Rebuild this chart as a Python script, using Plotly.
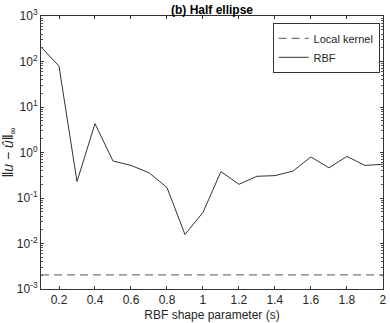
import plotly.graph_objects as go

# RBF shape parameter values and errors
s = [0.1, 0.2, 0.3, 0.4, 0.5, 0.6, 0.7, 0.8, 0.9, 1.0,
     1.1, 1.2, 1.3, 1.4, 1.5, 1.6, 1.7, 1.8, 1.9, 2.0]
rbf_err = [209, 79, 0.23, 4.3, 0.65, 0.52, 0.36, 0.17, 0.0158, 0.048,
           0.38, 0.20, 0.30, 0.31, 0.39, 0.80, 0.46, 0.82, 0.52, 0.55]
local_err = [0.00204] * len(s)

x_ticks = [0.2, 0.4, 0.6, 0.8, 1, 1.2, 1.4, 1.6, 1.8, 2]
x_ticktext = ["0.2", "0.4", "0.6", "0.8", "1", "1.2", "1.4", "1.6", "1.8", "2"]
y_ticks = [1e-3, 1e-2, 1e-1, 1e0, 1e1, 1e2, 1e3]
y_ticktext = ["10<sup>-3</sup>", "10<sup>-2</sup>", "10<sup>-1</sup>", "10<sup>0</sup>",
              "10<sup>1</sup>", "10<sup>2</sup>", "10<sup>3</sup>"]

fig = go.Figure()
fig.add_trace(go.Scatter(x=s, y=local_err, mode="lines", name="Local kernel",
                         line=dict(color="#555555", width=1, dash="8px,5px")))
fig.add_trace(go.Scatter(x=s, y=rbf_err, mode="lines", name="RBF",
                         line=dict(color="#333333", width=1)))

fig.update_layout(
    width=390, height=323,
    margin=dict(l=41, r=3, t=16, b=34),
    paper_bgcolor="white", plot_bgcolor="white",
    font=dict(family="Liberation Sans, Arial", size=12, color="#262626"),
    title=dict(text="<b>(b) Half ellipse</b>", x=0.5, xref="paper",
               y=1, yref="paper", yanchor="bottom", pad=dict(b=2),
               font=dict(size=12, color="black")),
    showlegend=True,
    legend=dict(x=0.99, y=0.975, xanchor="right", yanchor="top",
                bordercolor="#333333", borderwidth=1, bgcolor="white",
                font=dict(size=11), tracegroupgap=0),
    xaxis=dict(range=[0.1, 2.0005], tickvals=x_ticks, ticktext=x_ticktext,
               ticklabeloverflow="allow",
               ticks="inside", ticklen=3, tickcolor="#333333",
               showline=True, linecolor="#333333", linewidth=1, mirror="ticks",
               showgrid=False, zeroline=False,
               title=dict(text="RBF shape parameter (s)", standoff=4,
                          font=dict(size=12))),
    yaxis=dict(type="log", range=[-3, 3], tickvals=y_ticks, ticktext=y_ticktext,
               ticks="inside", ticklen=3, tickcolor="#333333",
               minor=dict(ticks="inside", ticklen=2, tickcolor="#555555",
                          dtick="D1", showgrid=False),
               showline=True, linecolor="#333333", linewidth=1, mirror="ticks",
               showgrid=False, zeroline=False,
               title=dict(text="<i>‖u − û‖</i><sub>∞</sub>", standoff=0,
                          font=dict(size=14))),
)

fig.write_html("out.html", config={"displayModeBar": False},
               post_script="document.body.style.margin='0';")
